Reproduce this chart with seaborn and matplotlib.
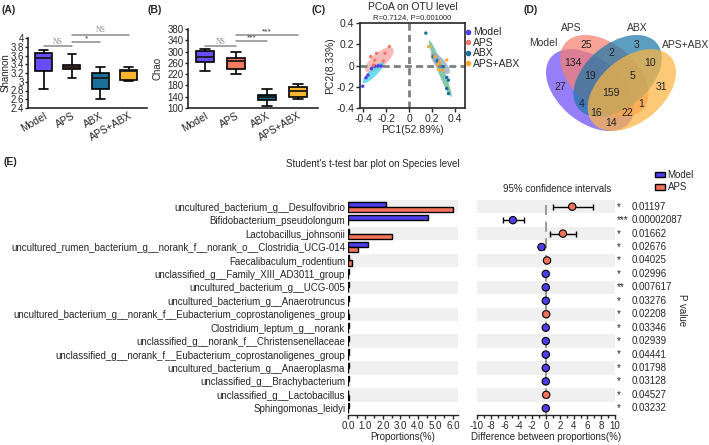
import numpy as np
import pandas as pd
import matplotlib
matplotlib.use("Agg")
import matplotlib.pyplot as plt
import matplotlib.transforms as mtransforms
from matplotlib.patches import Ellipse, Patch
from matplotlib.lines import Line2D
from matplotlib.ticker import MultipleLocator
import seaborn as sns

sns.set_theme(style="ticks")
plt.rcParams['font.family'] = ['Liberation Sans', 'DejaVu Sans']
plt.rcParams['font.size'] = 7
plt.rcParams['axes.linewidth'] = 1.2

# ---------------- data ----------------
groups = ["Model", "APS", "ABX", "APS+ABX"]
group_colors = ["#6A4CF6", "#F47B62", "#1B6F9B", "#FBB42E"]

# Panel A: Shannon (min, q1, median, q3, max)
shannon_model = [2.83, 3.24, 3.54, 3.66, 3.72]
shannon_aps = [3.09, 3.29, 3.34, 3.39, 3.63]
shannon_abx = [2.61, 2.83, 3.09, 3.21, 3.33]
shannon_apsabx = [3.01, 3.05, 3.25, 3.28, 3.33]
shannon_ticks = [2.4, 2.6, 2.8, 3.0, 3.2, 3.4, 3.6, 3.8, 4.0]
shannon_ticklabels = ["2.4", "2.6", "2.8", "3", "3.2", "3.4", "3.6", "3.8", "4"]
shannon_sig = [("Model", "APS", 3.81, "NS"), ("APS", "ABX", 3.90, "*"), ("APS", "APS+ABX", 4.08, "NS")]

# Panel B: Chao
chao_model = [232, 262, 281, 301, 309]
chao_aps = [219, 238, 265, 276, 298]
chao_abx = [106, 127, 138, 147, 167]
chao_apsabx = [133, 139, 159, 174, 186]
chao_ticks = [100, 140, 180, 220, 260, 300, 340, 380]
chao_sig = [("Model", "APS", 318, "NS"), ("APS", "ABX", 336, "***"), ("APS", "APS+ABX", 357, "***")]

# Panel C: PCoA
pc_model_x = [-0.406, -0.377, -0.33, -0.30, -0.27, -0.245, -0.36]
pc_model_y = [-0.195, -0.115, -0.03, -0.005, -0.003, -0.005, -0.09]
pc_aps_x = [-0.173, -0.21, -0.284, -0.336, -0.313, -0.225, -0.30]
pc_aps_y = [0.179, 0.115, 0.115, 0.084, 0.005, 0.043, 0.05]
pc_abx_x = [0.147, 0.211, 0.246, 0.298, 0.33, 0.345, 0.33, 0.345]
pc_abx_y = [0.305, 0.084, 0.043, -0.011, -0.112, -0.138, -0.217, -0.264]
pc_apsabx_x = [0.172, 0.225, 0.269, 0.33, 0.262, 0.298, 0.25]
pc_apsabx_y = [0.179, 0.084, 0.036, 0.052, -0.043, -0.043, 0.01]
# confidence ellipses: (group, cx, cy, length, width, angle)
pc_ellipses = [("APS", -0.26, 0.052, 0.32, 0.13, 43, "#F4A3A0"),
               ("Model", -0.313, -0.068, 0.26, 0.07, 47, "#3FD3E6"),
               ("ABX", 0.273, -0.03, 0.567, 0.055, -70, "#5DB590"),
               ("APS+ABX", 0.273, 0.02, 0.243, 0.09, -51, "#8EA6C6")]

# Panel D: Venn counts
venn_sets = ["Model", "APS", "ABX", "APS+ABX"]
venn_counts = {"1000": 27, "0100": 25, "0010": 3, "0001": 31,
               "1100": 134, "0110": 2, "0011": 10, "1110": 19, "0111": 5,
               "1111": 159, "1010": 4, "0101": 1, "1011": 16, "1101": 22, "1001": 14}
venn_colors = ["#6C4CF5", "#F58070", "#1F78A8", "#FDB541"]

# Panel E
species = ["uncultured_bacterium_g__Desulfovibrio",
           "Bifidobacterium_pseudolongum",
           "Lactobacillus_johnsonii",
           "uncultured_rumen_bacterium_g__norank_f__norank_o__Clostridia_UCG-014",
           "Faecalibaculum_rodentium",
           "unclassified_g__Family_XIII_AD3011_group",
           "uncultured_bacterium_g__UCG-005",
           "uncultured_bacterium_g__Anaerotruncus",
           "uncultured_bacterium_g__norank_f__Eubacterium_coprostanoligenes_group",
           "Clostridium_leptum_g__norank",
           "unclassified_g__norank_f__Christensenellaceae",
           "unclassified_g__norank_f__Eubacterium_coprostanoligenes_group",
           "uncultured_bacterium_g__Anaeroplasma",
           "unclassified_g__Brachybacterium",
           "unclassified_g__Lactobacillus",
           "Sphingomonas_leidyi"]
prop_model = [2.2, 4.55, 0.05, 1.15, 0.05, 0.03, 0.04, 0.03, 0.02, 0.03, 0.03, 0.03, 0.03, 0.03, 0.01, 0.03]
prop_aps = [6.0, 0.02, 2.5, 0.6, 0.22, 0.01, 0.01, 0.01, 0.04, 0.01, 0.01, 0.01, 0.01, 0.01, 0.04, 0.01]
diff = [3.8, -4.8, 2.45, -0.65, 0.15, -0.03, -0.03, -0.03, 0.03, -0.03, -0.03, -0.03, -0.03, -0.03, 0.03, -0.03]
ci_low = [1.0, -6.3, 0.6, -0.95, 0.05, -0.06, -0.06, -0.06, 0.0, -0.06, -0.06, -0.06, -0.06, -0.06, 0.0, -0.06]
ci_high = [6.8, -3.2, 4.4, -0.35, 0.25, 0.0, 0.0, 0.0, 0.06, 0.0, 0.0, 0.0, 0.0, 0.0, 0.06, 0.0]
p_values = ["0.01197", "0.00002087", "0.01662", "0.02676", "0.04025", "0.02996", "0.007617", "0.03276",
            "0.02208", "0.03346", "0.02939", "0.04441", "0.01798", "0.03128", "0.04527", "0.03232"]
p_stars = ["*", "***", "*", "*", "*", "*", "**", "*", "*", "*", "*", "*", "*", "*", "*", "*"]
e_colors = {"Model": "#4E3DEB", "APS": "#F2735B"}

# ---------------- figure ----------------
W, H = 709, 445
fig = plt.figure(figsize=(W / 100, H / 100), dpi=100)

def px_axes(x0, y0, x1, y1):
    return fig.add_axes([x0 / W, 1 - y1 / H, (x1 - x0) / W, (y1 - y0) / H])

pal = dict(zip(groups, group_colors))

def box_panel(ax, vals, ylabel, ticks, ticklabels, sig, ylim, label_x):
    df = pd.DataFrame({"group": np.repeat(groups, 5),
                       "value": np.concatenate(vals)})
    sns.boxplot(data=df, x="group", y="value", hue="group", order=groups, hue_order=groups,
                palette=pal, whis=(0, 100), width=0.6, linewidth=1.2, linecolor="black",
                saturation=1, legend=False, ax=ax,
                medianprops=dict(color="#1a1a1a", linewidth=1.3))
    ax.set_ylim(*ylim)
    ax.set_xlim(-0.55, 3.65)
    ax.set_yticks(ticks)
    ax.set_yticklabels(ticklabels, fontsize=7)
    ax.set_xlabel("")
    ax.set_ylabel(ylabel, fontsize=7)
    ax.yaxis.set_label_coords(label_x, 0.5)
    ax.tick_params(axis="x", length=0, pad=2)
    ax.tick_params(axis="y", length=2.5, width=1, pad=0.5)
    ax.set_xticks(range(4))
    ax.set_xticklabels(groups, rotation=30, ha="right", rotation_mode="anchor", fontsize=7.5)
    sns.despine(ax=ax)
    for a, b, yv, txt in sig:
        xa, xb = groups.index(a), groups.index(b)
        ax.plot([xa, xb], [yv, yv], color="#8c8c8c", lw=1.1, clip_on=False)
        if txt == "NS":
            ax.text((xa + xb) / 2, yv, txt, ha="center", va="bottom", fontsize=5.5,
                    family="Liberation Serif", color="#8c8c8c", clip_on=False)
        else:
            ax.text((xa + xb) / 2, yv, txt, ha="center", va="bottom", fontsize=6,
                    color="#333333", clip_on=False)

axA = px_axes(28, 38, 147, 108)
box_panel(axA, [shannon_model, shannon_aps, shannon_abx, shannon_apsabx], "Shannon",
          shannon_ticks, shannon_ticklabels, shannon_sig, (2.4, 4.0), (11 - 28) / 119)
axB = px_axes(188, 29, 318, 108)
box_panel(axB, [chao_model, chao_aps, chao_abx, chao_apsabx], "Chao",
          chao_ticks, [str(t) for t in chao_ticks], chao_sig, (100, 380), (163 - 188) / 130)

# Panel C
axC = px_axes(360, 23, 465, 108)
pc_df = pd.DataFrame({
    "PC1": pc_model_x + pc_aps_x + pc_abx_x + pc_apsabx_x,
    "PC2": pc_model_y + pc_aps_y + pc_abx_y + pc_apsabx_y,
    "group": ["Model"] * len(pc_model_x) + ["APS"] * len(pc_aps_x) + ["ABX"] * len(pc_abx_x)
             + ["APS+ABX"] * len(pc_apsabx_x)})
for g, cx, cy, ln, wd, ang, col in pc_ellipses:
    axC.add_patch(Ellipse((cx, cy), ln, wd, angle=ang, facecolor=col, alpha=0.75,
                          edgecolor="none", zorder=1))
axC.axhline(0, color="#808080", lw=2, ls=(0, (2.5, 1.5)), zorder=2)
axC.axvline(0, color="#808080", lw=2, ls=(0, (2.5, 1.5)), zorder=2)
pc_pal = {"Model": "#4B3CF0", "APS": "#F4786A", "ABX": "#1A6F9A", "APS+ABX": "#FFAA2E"}
sns.scatterplot(data=pc_df, x="PC1", y="PC2", hue="group", palette=pc_pal, s=6,
                edgecolor="none", legend=False, ax=axC, zorder=3)
axC.set_xlim(-0.43, 0.49)
axC.set_ylim(-0.4, 0.4)
axC.set_xticks([-0.4, -0.2, 0, 0.2, 0.4])
axC.set_xticklabels(["-0.4", "-0.2", "0", "0.2", "0.4"], fontsize=7.5)
axC.set_yticks([-0.4, -0.2, 0, 0.2, 0.4])
axC.set_yticklabels(["-0.4", "-0.2", "0", "0.2", "0.4"], fontsize=7.5)
axC.tick_params(length=3, width=1, pad=1)
axC.set_xlabel("PC1(52.89%)", fontsize=7.5, labelpad=1)
axC.set_ylabel("PC2(8.33%)", fontsize=7.5, labelpad=1)
axC.text(0.5, 1.13, "PCoA on OTU level", transform=axC.transAxes, ha="center", va="bottom", fontsize=7.5)
axC.text(0.5, 1.02, "R=0.7124, P=0.001000", transform=axC.transAxes, ha="center", va="bottom", fontsize=5.5)
handles = [Line2D([], [], marker="o", ls="none", color=pc_pal[g], markersize=3) for g in groups]
axC.legend(handles, groups, loc="upper left", bbox_to_anchor=(1.0, 0.95), frameon=False,
           fontsize=7.5, handlelength=0.6, handletextpad=0.2, labelspacing=0.05, borderaxespad=0,
           borderpad=0)

# Panel D: Venn
axD = fig.add_axes([540.5 / W, 1 - 146.8 / H, 141.8 / W, 141.8 / H])
axD.set_xlim(0, 1)
axD.set_ylim(0, 1)
axD.axis("off")
venn_geom = [(0.350, 0.400, 140.0), (0.450, 0.500, 140.0), (0.544, 0.500, 40.0), (0.644, 0.400, 40.0)]
for (cx, cy, ang), col in zip(venn_geom, venn_colors):
    axD.add_patch(Ellipse((cx, cy), 0.72, 0.45, angle=ang, facecolor=col, alpha=0.72,
                          edgecolor="none", clip_on=False))
venn_text_pos = {"0001": (0.85, 0.42), "0010": (0.68, 0.72), "0011": (0.77, 0.59),
                 "0100": (0.32, 0.72), "0101": (0.71, 0.30), "0110": (0.50, 0.66),
                 "0111": (0.65, 0.50), "1000": (0.14, 0.42), "1001": (0.50, 0.17),
                 "1010": (0.29, 0.30), "1011": (0.39, 0.24), "1100": (0.23, 0.59),
                 "1101": (0.61, 0.24), "1110": (0.35, 0.50), "1111": (0.50, 0.38)}
for key, (tx, ty) in venn_text_pos.items():
    axD.text(tx, ty, str(venn_counts[key]), ha="center", va="center", fontsize=7.5, color="#222222")
venn_label_pos = [(0.02, 0.73), (0.22, 0.84), (0.68, 0.84), (1.02, 0.72)]
for name, (tx, ty) in zip(venn_sets, venn_label_pos):
    axD.text(tx, ty, name, ha="center", va="center", fontsize=7.5, color="#333333", clip_on=False)

# Panel E: bars
axE = px_axes(348, 200, 458, 415)
n = len(species)
for i in range(0, n, 2):
    axE.axhspan(i - 0.5, i + 0.5, color="#F0F0F0", zorder=0, lw=0)
bar_df = pd.DataFrame({"species": species * 2,
                       "prop": prop_model + prop_aps,
                       "group": ["Model"] * n + ["APS"] * n})
sns.barplot(data=bar_df, x="prop", y="species", hue="group", hue_order=["Model", "APS"],
            palette=e_colors, orient="h", width=0.75, edgecolor="black", linewidth=1.0,
            saturation=1, legend=False, ax=axE, zorder=2)
axE.set_ylim(n - 0.5, -0.5)
axE.set_xlim(0, 6.29)
axE.set_xticks(np.arange(0, 6.01, 1.0))
axE.set_xticklabels([f"{v:.1f}" for v in np.arange(0, 6.01, 1.0)], fontsize=7)
axE.xaxis.set_minor_locator(MultipleLocator(0.5))
axE.tick_params(axis="x", which="major", length=3, width=1, pad=1)
axE.tick_params(axis="x", which="minor", length=2, width=1)
axE.tick_params(axis="y", length=0, pad=2, labelsize=7)
axE.set_ylabel("")
axE.set_xlabel("Proportions(%)", fontsize=7, labelpad=1)
for s in ["left", "top", "right"]:
    axE.spines[s].set_visible(False)
axE.spines["bottom"].set_linewidth(1)

# Panel E: CI
axF = px_axes(477, 200, 615, 415)
for i in range(0, n, 2):
    axF.axhspan(i - 0.5, i + 0.5, color="#F0F0F0", zorder=0, lw=0)
axF.axvline(0, color="#8a8a8a", lw=1.2, ls=(0, (6, 4)), zorder=1)
rows = np.arange(n)
ci_df = pd.DataFrame({"diff": diff, "row": rows,
                      "group": ["APS" if d > 0 else "Model" for d in diff],
                      "lo": ci_low, "hi": ci_high})
axF.errorbar(ci_df["diff"], ci_df["row"],
             xerr=[ci_df["diff"] - ci_df["lo"], ci_df["hi"] - ci_df["diff"]],
             fmt="none", ecolor="black", elinewidth=1, capsize=2.5, capthick=1, zorder=2)
sns.scatterplot(data=ci_df, x="diff", y="row", hue="group", palette=e_colors, s=28,
                edgecolor="black", linewidth=0.8, legend=False, ax=axF, zorder=3)
axF.set_ylim(n - 0.5, -0.5)
axF.set_xlim(-10, 10)
axF.set_xticks(np.arange(-10, 11, 2))
axF.set_xticklabels([str(v) for v in np.arange(-10, 11, 2)], fontsize=7)
axF.xaxis.set_minor_locator(MultipleLocator(1))
axF.tick_params(axis="x", which="major", length=3, width=1, pad=1)
axF.tick_params(axis="x", which="minor", length=2, width=1)
axF.set_yticks([])
axF.set_ylabel("")
axF.set_xlabel("Difference between proportions(%)", fontsize=7, labelpad=1)
for s in ["left", "top", "right"]:
    axF.spines[s].set_visible(False)
axF.spines["bottom"].set_linewidth(1)
trans = mtransforms.blended_transform_factory(axF.transAxes, axF.transData)
for i, (st, pv) in enumerate(zip(p_stars, p_values)):
    axF.text(1.015, i, st, transform=trans, ha="left", va="center", fontsize=7, clip_on=False)
    axF.text(1.123, i, pv, transform=trans, ha="left", va="center", fontsize=7, clip_on=False)
axF.text(0.58, 1.05, "95% confidence intervals", transform=axF.transAxes, ha="center",
         va="center", fontsize=7)
fig.text(682 / W, 1 - 310 / H, "P value", rotation=270, ha="center", va="center", fontsize=7)
fig.legend([Patch(facecolor=e_colors["Model"], edgecolor="black"),
            Patch(facecolor=e_colors["APS"], edgecolor="black")], ["Model", "APS"],
           loc="upper left", bbox_to_anchor=(655 / W, 1 - 170 / H), frameon=False, fontsize=7,
           handlelength=1.0, handleheight=0.55, handletextpad=0.3, labelspacing=0.25,
           borderpad=0, borderaxespad=0)
fig.text(373 / W, 1 - 164 / H, "Student's t-test bar plot on Species level", ha="center",
         va="center", fontsize=7)

# panel labels
for lab, x, y in [("(A)", 2, 5), ("(B)", 148, 5), ("(C)", 312, 5), ("(D)", 524, 5), ("(E)", 3, 157)]:
    fig.text(x / W, 1 - y / H, lab, ha="left", va="top", fontsize=7.5, weight="bold")

fig.savefig("out.png", dpi=100)
